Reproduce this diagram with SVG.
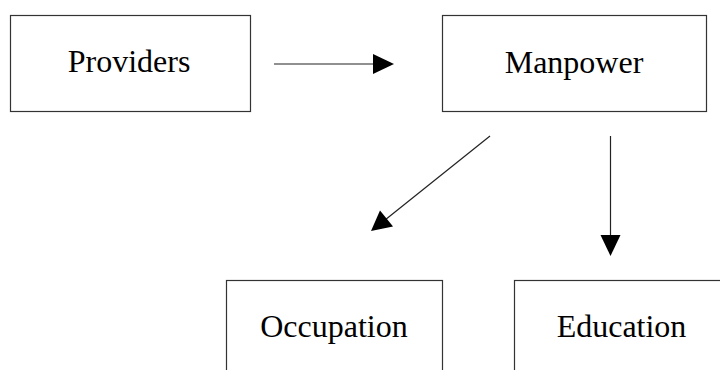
<svg xmlns="http://www.w3.org/2000/svg" width="720" height="370" viewBox="0 0 720 370">
  <style>
    .box { fill: #ffffff; stroke: #333333; stroke-width: 1.2; }
    .label { font-family: "Liberation Serif", "Times New Roman", serif; font-size: 32px; fill: #000000; text-anchor: middle; }
    .edge { stroke: #222222; stroke-width: 1.2; fill: none; }
    .head { fill: #000000; stroke: none; }
  </style>
  <rect width="720" height="370" fill="#ffffff"/>

  <g id="node-providers">
    <rect class="box" x="10.5" y="15.5" width="240" height="96"/>
    <text class="label" x="129" y="72">Providers</text>
  </g>

  <g id="node-manpower">
    <rect class="box" x="442.5" y="15.5" width="264" height="96"/>
    <text class="label" x="574" y="72.5">Manpower</text>
  </g>

  <g id="node-occupation">
    <rect class="box" x="226.5" y="280.5" width="216" height="100"/>
    <text class="label" x="334" y="336.5">Occupation</text>
  </g>

  <g id="node-education">
    <rect class="box" x="514.5" y="280.5" width="215" height="100"/>
    <text class="label" x="621.5" y="336.5">Education</text>
  </g>

  <g id="connectors">
    <!-- Providers to Manpower -->
    <line class="edge" x1="274" y1="64" x2="374" y2="64"/>
    <polygon class="head" points="394,64 373,54 373,74"/>
    <!-- Manpower to Occupation -->
    <line class="edge" x1="490" y1="136" x2="385" y2="220"/>
    <polygon class="head" points="371,231 380,210.5 393,226.5"/>
    <!-- Manpower to Education -->
    <line class="edge" x1="610.5" y1="136" x2="610.5" y2="236"/>
    <polygon class="head" points="610.5,256 600.5,235 620.5,235"/>
  </g>
</svg>
